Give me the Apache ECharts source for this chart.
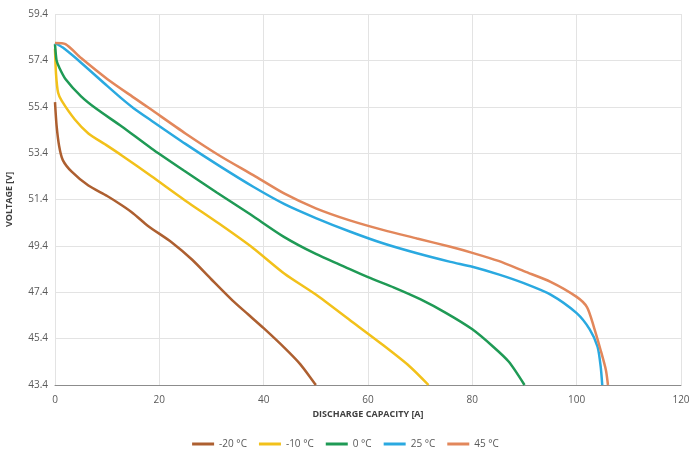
<!DOCTYPE html>
<html>
<head>
<meta charset="utf-8">
<script src="https://cdn.jsdelivr.net/npm/echarts@6/dist/echarts.min.js"></script>
<style>
  html, body { margin: 0; padding: 0; background: #fff; }
  #chart { width: 691px; height: 462px; }
</style>
</head>
<body>
<div id="chart"></div>
<script>
// series names
const names = ['-20 °C', '-10 °C', '0 °C', '25 °C', '45 °C']
const colors = ['#ad5f30', '#f2c11a', '#1f9a55', '#2aa9e0', '#e2875b']

// y axis starts at 43.4 with 2 V steps
const yBase = 43.4
const yTop = 59.4

// [capacity A, voltage V]
const minus20 = [[0, 55.6], [0.3, 54.6], [0.8, 53.7], [1.5, 53.1], [3.2, 52.6], [6.4, 52.0], [10, 51.55], [12.8, 51.15], [15, 50.8], [17.9, 50.25], [22.4, 49.55], [26.3, 48.8], [30, 47.95], [34, 47.05], [37, 46.45], [40, 45.85], [44, 45.0], [47, 44.3], [50, 43.4]]
const minus10 = [[0, 57.9], [0.2, 56.8], [0.6, 56.0], [1.3, 55.65], [3.8, 54.85], [6.4, 54.25], [9.6, 53.78], [12.8, 53.3], [18.5, 52.4], [25, 51.35], [31.5, 50.35], [38, 49.3], [44, 48.2], [50, 47.3], [56.5, 46.2], [63, 45.1], [68, 44.2], [71.6, 43.4]]
const zero = [[0, 58.1], [0.3, 57.4], [0.8, 57.1], [2, 56.6], [5, 55.85], [8, 55.3], [12.8, 54.55], [18.5, 53.6], [24.7, 52.65], [31, 51.7], [37.5, 50.75], [43.8, 49.8], [50, 49.05], [55, 48.55], [60, 48.05], [65, 47.6], [70, 47.1], [75, 46.5], [80, 45.8], [84, 45.05], [87, 44.4], [90, 43.4]]
const plus25 = [[0, 58.15], [1.5, 57.95], [5, 57.3], [10, 56.3], [12.8, 55.75], [15, 55.35], [18.5, 54.8], [25, 53.8], [31.5, 52.85], [38, 51.95], [44, 51.2], [50, 50.6], [56.5, 50.02], [63, 49.5], [69.4, 49.08], [75.8, 48.71], [80, 48.5], [85, 48.17], [90, 47.78], [95, 47.3], [100, 46.5], [102.5, 45.8], [104, 45.05], [104.6, 44.2], [104.9, 43.4]]
const plus45 = [[0, 58.15], [2, 58.1], [5, 57.5], [10, 56.6], [15.4, 55.75], [18.3, 55.3], [25, 54.25], [31.5, 53.3], [38, 52.45], [44, 51.65], [50, 51.02], [56.5, 50.5], [63, 50.08], [69.4, 49.72], [75.8, 49.36], [80, 49.1], [85, 48.75], [90, 48.3], [95, 47.85], [100, 47.2], [102, 46.75], [103.3, 45.9], [104.6, 44.9], [105.6, 44.05], [106, 43.4]]

const curves = [minus20, minus10, zero, plus25, plus45]

const chart = echarts.init(document.getElementById('chart'))

const labelFont = {
  color: '#595959',
  fontSize: 10,
  fontFamily: 'Open Sans',
}

chart.setOption({
  backgroundColor: '#fff',
  animation: false,
  grid: {
    left: 55,
    right: 10,
    top: 14,
    bottom: 77,
    outerBoundsMode: 'none',
  },
  legend: {
    bottom: 8,
    left: 'center',
    icon: 'rect',
    itemWidth: 22,
    itemHeight: 3,
    itemGap: 12,
    textStyle: labelFont,
    data: names,
  },
  xAxis: {
    type: 'value',
    min: 0,
    max: 120,
    interval: 20,
    name: 'DISCHARGE CAPACITY [A]',
    nameLocation: 'middle',
    nameGap: 25,
    nameTextStyle: {
      color: '#404040',
      fontSize: 9,
      fontWeight: 'bold',
      fontFamily: 'Open Sans',
    },
    axisLine: {
      lineStyle: { color: '#8c8c8c', width: 1 },
    },
    axisTick: { show: false },
    axisLabel: { ...labelFont, margin: 10 },
    splitLine: {
      lineStyle: { color: '#e3e3e3' },
    },
  },
  yAxis: {
    type: 'value',
    // plotted as offset from yBase so ticks fall on 43.4, 45.4, ...
    min: 0,
    max: yTop - yBase,
    interval: 2,
    name: 'VOLTAGE [V]',
    nameLocation: 'middle',
    nameGap: 41,
    nameRotate: 90,
    nameTextStyle: {
      color: '#404040',
      fontSize: 9,
      fontWeight: 'bold',
      fontFamily: 'Open Sans',
    },
    axisLine: { show: false },
    axisTick: { show: false },
    axisLabel: {
      ...labelFont,
      margin: 7,
      formatter: (v) => (v + yBase).toFixed(1),
    },
    splitLine: {
      lineStyle: { color: '#e3e3e3' },
    },
  },
  series: curves.map((pts, i) => ({
    name: names[i],
    type: 'line',
    showSymbol: false,
    smooth: 0.25,
    color: colors[i],
    lineStyle: { width: 2.5 },
    z: 2 + i,
    data: pts.map(([x, y]) => [x, +(y - yBase).toFixed(3)]),
  })),
})
</script>
</body>
</html>
